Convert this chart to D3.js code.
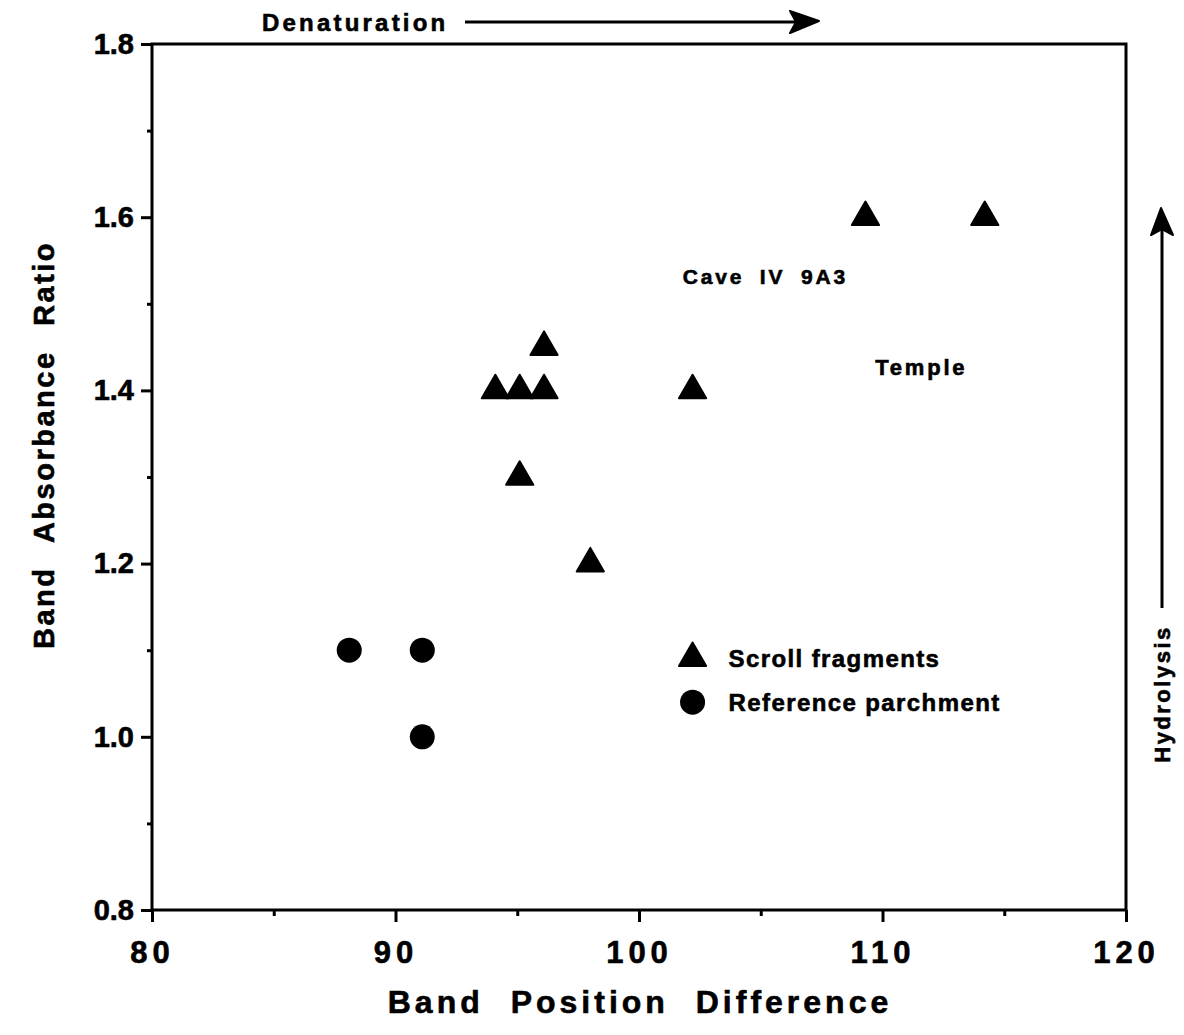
<!DOCTYPE html>
<html>
<head>
<meta charset="utf-8">
<script src="https://cdn.jsdelivr.net/npm/d3@7"></script>
<style>
  body { margin: 0; background: #fff; }
  text { font-family: "Liberation Sans", Arial, sans-serif; font-weight: bold; fill: #000;
         stroke: #000; stroke-width: 0.6px; }
</style>
</head>
<body>
<div class="graph"></div>
<script>
// scroll fragments (triangles) and reference parchment (circles)
var scrollX = [109.3, 114.2, 94.1, 95.1, 96.1, 96.1, 95.1, 98.0, 102.2];
var scrollY = [1.6, 1.6, 1.4, 1.4, 1.4, 1.45, 1.3, 1.2, 1.4];
var refX = [88.1, 91.1, 91.1];
var refY = [1.1, 1.1, 1.0];

var xTicks = [80, 90, 100, 110, 120];
var xMinor = [85, 95, 105, 115];
var yTicks = [0.8, 1.0, 1.2, 1.4, 1.6, 1.8];
var yMinor = [0.9, 1.1, 1.3, 1.5, 1.7];

var margin = {top: 44, right: 58, bottom: 125, left: 152},
    width = 1184 - margin.left - margin.right,
    height = 1035 - margin.top - margin.bottom;

var x = d3.scaleLinear().domain([80, 120]).range([0, width]);
var y = d3.scaleLinear().domain([0.8, 1.8]).range([height, 0]);

var svg = d3.select(".graph").append("svg")
    .attr("width", 1184)
    .attr("height", 1035);

var g = svg.append("g")
    .attr("transform", "translate(" + margin.left + "," + margin.top + ")");

// frame
g.append("rect")
  .attr("x", 0).attr("y", 0)
  .attr("width", width).attr("height", height)
  .attr("fill", "none").attr("stroke", "#000").attr("stroke-width", 3);

var xAxis = d3.axisBottom(x).tickValues(xTicks).tickSize(12).tickPadding(19)
    .tickFormat(d3.format("d"));
var xAxisMinor = d3.axisBottom(x).tickValues(xMinor).tickSize(6).tickFormat("");
var yAxis = d3.axisLeft(y).tickValues(yTicks).tickSize(11).tickPadding(7)
    .tickFormat(d3.format(".1f"));
var yAxisMinor = d3.axisLeft(y).tickValues(yMinor).tickSize(5).tickFormat("");

function styleAxis(sel) {
  sel.select(".domain").remove();
  sel.selectAll("line").attr("stroke", "#000").attr("stroke-width", 3);
}

g.append("g").attr("class", "x axis")
  .attr("transform", "translate(0," + height + ")")
  .call(xAxis).call(styleAxis)
  .selectAll("text")
    .style("font-size", "31px").style("letter-spacing", "5px")
    .style("font-family", "Liberation Sans, Arial, sans-serif").style("font-weight", "bold");

g.append("g").attr("class", "x axis minor")
  .attr("transform", "translate(0," + height + ")")
  .call(xAxisMinor).call(styleAxis);

g.append("g").attr("class", "y axis")
  .call(yAxis).call(styleAxis)
  .selectAll("text")
    .style("font-size", "29px")
    .style("font-family", "Liberation Sans, Arial, sans-serif").style("font-weight", "bold");

g.append("g").attr("class", "y axis minor")
  .call(yAxisMinor).call(styleAxis);

// points
var tri = d3.symbol().type(d3.symbolTriangle).size(320);
var circ = d3.symbol().type(d3.symbolCircle).size(490);

g.selectAll(".scroll")
  .data(scrollX.map(function(d, i) { return {x: d, y: scrollY[i]}; }))
  .enter().append("path")
  .attr("class", "scroll")
  .attr("d", tri)
  .attr("transform", function(d) { return "translate(" + x(d.x) + "," + y(d.y) + ")"; })
  .attr("fill", "#000").attr("stroke", "#000").attr("stroke-width", 2)
  .attr("stroke-linejoin", "round");

g.selectAll(".ref")
  .data(refX.map(function(d, i) { return {x: d, y: refY[i]}; }))
  .enter().append("path")
  .attr("class", "ref")
  .attr("d", circ)
  .attr("transform", function(d) { return "translate(" + x(d.x) + "," + y(d.y) + ")"; })
  .attr("fill", "#000");

// annotations
g.append("text").attr("x", x(101.8)).attr("y", y(1.523))
  .style("font-size", "21px").style("letter-spacing", "2.8px").style("word-spacing", "7px")
  .text("Cave  IV  9A3");
g.append("text").attr("x", x(109.7)).attr("y", y(1.418))
  .style("font-size", "22px").style("letter-spacing", "2.8px")
  .text("Temple");

// legend
var legend = g.append("g")
  .attr("transform", "translate(" + x(102.2) + "," + y(1.04) + ")");
legend.append("path").attr("d", tri).attr("transform", "translate(0,-44)")
  .attr("fill", "#000").attr("stroke", "#000").attr("stroke-width", 2).attr("stroke-linejoin", "round");
legend.append("path").attr("d", circ).attr("fill", "#000");
legend.append("text").attr("x", 36).attr("y", -35).style("font-size", "24px").style("letter-spacing", "1.4px").text("Scroll fragments");
legend.append("text").attr("x", 36).attr("y", 9).style("font-size", "24px").style("letter-spacing", "1.4px").text("Reference parchment");

// axis titles
svg.append("text")
  .attr("x", 640).attr("y", 1013)
  .attr("text-anchor", "middle")
  .style("font-size", "32px").style("letter-spacing", "4px").style("word-spacing", "14px")
  .text("Band Position Difference");

svg.append("text")
  .attr("transform", "translate(54," + 445 + ") rotate(-90)")
  .attr("text-anchor", "middle")
  .style("font-size", "29px").style("letter-spacing", "2.5px").style("word-spacing", "14px")
  .text("Band Absorbance Ratio");

// Denaturation arrow
svg.append("text").attr("x", 262).attr("y", 31)
  .style("font-size", "24px").style("letter-spacing", "3.2px")
  .text("Denaturation");
svg.append("line").attr("x1", 465).attr("x2", 800).attr("y1", 22).attr("y2", 22)
  .attr("stroke", "#000").attr("stroke-width", 3);
svg.append("path").attr("d", "M790,11 L819,21 L790,33 L796,22 Z").attr("fill", "#000")
  .attr("stroke", "#000").attr("stroke-width", 2).attr("stroke-linejoin", "round");

// Hydrolysis arrow
svg.append("text")
  .attr("transform", "translate(1170,694) rotate(-90)")
  .attr("text-anchor", "middle")
  .style("font-size", "22px").style("letter-spacing", "2.5px")
  .text("Hydrolysis");
svg.append("line").attr("x1", 1162).attr("x2", 1162).attr("y1", 608).attr("y2", 225)
  .attr("stroke", "#000").attr("stroke-width", 3);
svg.append("path").attr("d", "M1151,235 L1161,208 L1173,235 L1162,229 Z").attr("fill", "#000")
  .attr("stroke", "#000").attr("stroke-width", 2).attr("stroke-linejoin", "round");
</script>
</body>
</html>
